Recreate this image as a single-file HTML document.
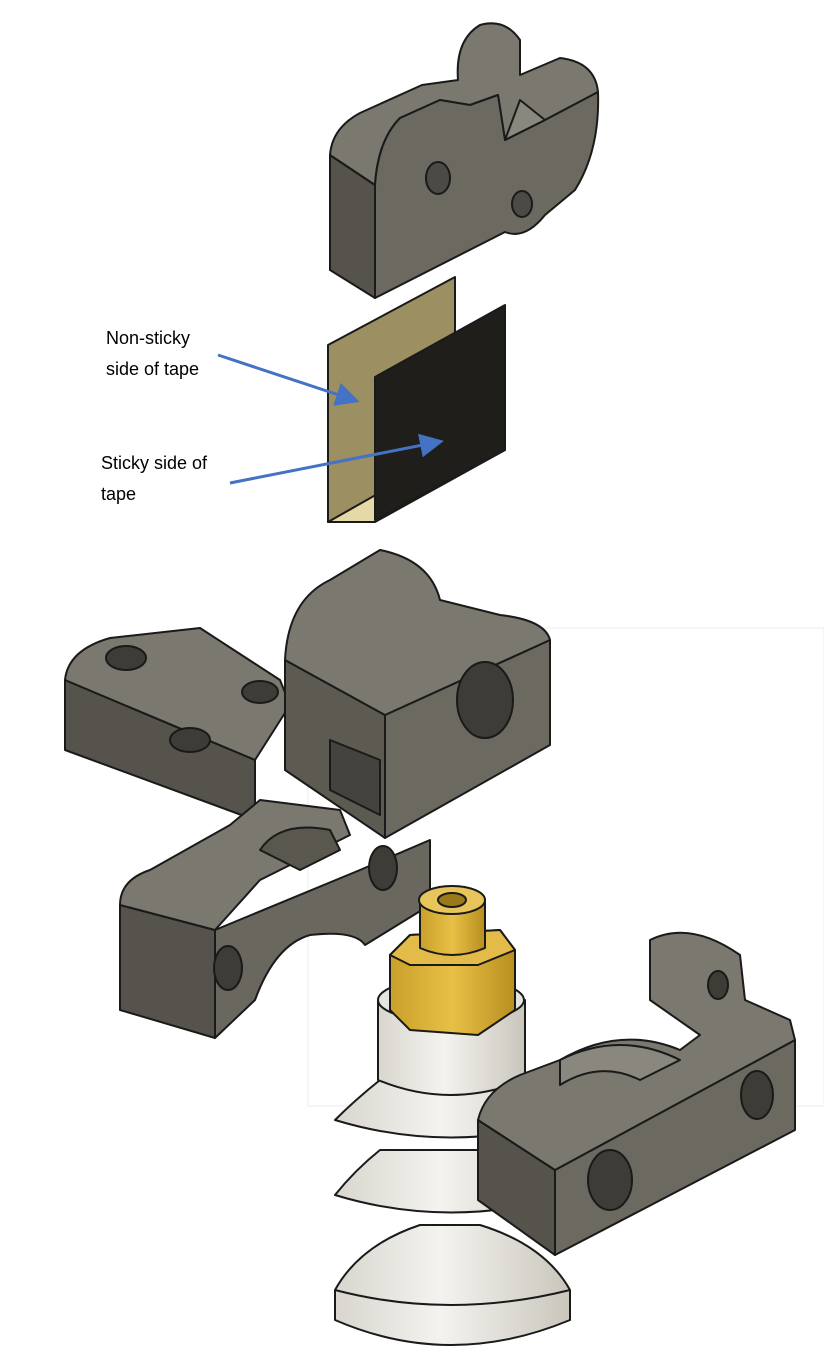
<!DOCTYPE html>
<html><head><meta charset="utf-8"><style>
html,body{margin:0;padding:0;background:#fff;}
svg{display:block;}
text{font-family:"Liberation Sans",sans-serif;font-size:18px;fill:#000;}
</style></head><body>
<svg width="824" height="1365" viewBox="0 0 824 1365" xmlns="http://www.w3.org/2000/svg">
<defs>
<marker id="ah" markerWidth="8" markerHeight="8" refX="6" refY="4" orient="auto"><path d="M0,0 L8,4 L0,8 z" fill="#4472c4"/></marker>
<linearGradient id="cup" x1="0" x2="1"><stop offset="0" stop-color="#d8d6ce"/><stop offset="0.45" stop-color="#f4f3ef"/><stop offset="1" stop-color="#c9c6bc"/></linearGradient>
<linearGradient id="brass" x1="0" x2="1"><stop offset="0" stop-color="#c9a02a"/><stop offset="0.5" stop-color="#e8c046"/><stop offset="1" stop-color="#b88f20"/></linearGradient>
</defs>
<g stroke="#1a1a1a" stroke-width="2" stroke-linejoin="round">
<!-- top bracket -->
<path d="M330,155 L330,270 L375,298 L375,185 Z" fill="#56534c"/>
<path d="M330,155 Q332,128 360,113 L422,85 L458,80 Q455,40 480,25 Q505,18 520,40 L520,75 L560,58 Q595,62 598,92 L545,120 L505,140 L498,95 L470,105 L440,100 L400,118 Q378,140 375,185 Z" fill="#7b786f"/>
<path d="M375,185 Q378,140 400,118 L440,100 L470,105 L498,95 L505,140 L545,120 L598,92 Q600,150 575,190 L545,215 Q525,240 505,232 L375,298 Z" fill="#6c6960"/>
<path d="M505,140 L520,100 L545,120 Z" fill="#8a877e"/>
<ellipse cx="438" cy="178" rx="12" ry="16" fill="#4c4a44"/>
<ellipse cx="522" cy="204" rx="10" ry="13" fill="#4c4a44"/>
<!-- tape -->
<path d="M328,345 L455,277 L455,470 L328,522 Z" fill="#9c8f62"/>
<path d="M328,522 L375,522 L505,450 L455,450 Z" fill="#e6d9a8"/>
<path d="M375,377 L505,305 L505,450 L375,520 Z" fill="#1f1e1a"/>
</g>
<line x1="218" y1="355" x2="354" y2="400" stroke="#4472c4" stroke-width="3" marker-end="url(#ah)"/>
<line x1="230" y1="483" x2="438" y2="442" stroke="#4472c4" stroke-width="3" marker-end="url(#ah)"/>
<text x="106" y="344">Non-sticky</text>
<text x="106" y="375">side of tape</text>
<text x="101" y="469">Sticky side of</text>
<text x="101" y="500">tape</text>
<rect x="308" y="628" width="516" height="478" fill="none" stroke="#ececec" stroke-width="1"/>
<g stroke="#1a1a1a" stroke-width="2" stroke-linejoin="round">
<!-- left plate -->
<path d="M65,680 L65,750 L255,820 L255,760 Z" fill="#56534c"/>
<path d="M65,680 Q68,650 110,638 L200,628 L280,680 L290,705 L255,760 Z" fill="#7b786f"/>
<ellipse cx="126" cy="658" rx="20" ry="12" fill="#3e3c37"/>
<ellipse cx="190" cy="740" rx="20" ry="12" fill="#3e3c37"/>
<ellipse cx="260" cy="692" rx="18" ry="11" fill="#3e3c37"/>
<!-- lower left clamp -->
<path d="M120,905 L120,1010 L215,1038 L215,930 Z" fill="#56534c"/>
<path d="M215,930 L215,1038 L255,1000 Q275,945 310,935 Q355,930 365,945 L430,905 L430,840 L360,870 Z" fill="#6a675f"/>
<ellipse cx="228" cy="968" rx="14" ry="22" fill="#3e3c37"/>
<ellipse cx="383" cy="868" rx="14" ry="22" fill="#3e3c37"/>
<path d="M120,905 Q120,880 150,870 L230,825 L260,800 L340,810 L350,835 L300,860 L260,880 L215,930 Z" fill="#7b786f"/>
<path d="M260,850 Q280,820 330,830 L340,850 L300,870 Z" fill="#5a574f"/>
<!-- central clevis -->
<path d="M285,660 L285,770 L385,838 L385,715 Z" fill="#5d5a52"/>
<path d="M385,715 L385,838 L550,745 L550,640 Z" fill="#6c6960"/>
<path d="M285,660 Q288,600 330,580 L380,550 Q430,560 440,600 L500,615 Q545,620 550,640 L385,715 Z" fill="#7b786f"/>
<ellipse cx="485" cy="700" rx="28" ry="38" fill="#3e3c37"/>
<path d="M330,790 L380,815 L380,760 L330,740 Z" fill="#45433d"/>
<!-- suction cup -->
<path d="M420,1225 L480,1225 Q545,1245 570,1290 L570,1320 Q450,1370 335,1320 L335,1290 Q360,1245 420,1225 Z" fill="url(#cup)"/>
<path d="M335,1290 Q450,1320 570,1290" fill="none"/>
<path d="M380,1150 L525,1150 Q550,1170 570,1195 Q450,1230 335,1195 Q355,1170 380,1150 Z" fill="url(#cup)"/>
<path d="M380,1080 L525,1080 Q550,1100 570,1120 Q450,1155 335,1120 Q355,1100 380,1080 Z" fill="url(#cup)"/>
<path d="M378,1000 L378,1080 Q450,1110 525,1080 L525,1000 Z" fill="url(#cup)"/>
<ellipse cx="451" cy="1000" rx="73" ry="22" fill="#e6e4de"/>
<!-- brass -->
<path d="M390,955 L410,935 L500,930 L515,950 L515,1010 L478,1035 L410,1030 L390,1010 Z" fill="url(#brass)"/>
<path d="M390,955 L410,935 L500,930 L515,950 L478,965 L410,965 Z" fill="#e2bb48"/>
<path d="M420,900 L420,948 Q452,962 485,948 L485,900 Z" fill="url(#brass)"/>
<ellipse cx="452" cy="900" rx="33" ry="14" fill="#e8c55a"/>
<ellipse cx="452" cy="900" rx="14" ry="7" fill="#9a7a18"/>
<!-- right clamp -->
<path d="M478,1120 L478,1200 L555,1255 L555,1170 Z" fill="#56534c"/>
<path d="M555,1170 L555,1255 L795,1130 L795,1040 Z" fill="#6c6960"/>
<path d="M478,1120 Q485,1090 520,1075 L560,1060 Q620,1025 680,1050 L700,1035 L650,1000 L650,940 Q690,920 740,955 L745,1000 L790,1020 L795,1040 L555,1170 Z" fill="#7b786f"/>
<path d="M560,1060 Q620,1030 680,1060 L640,1080 Q600,1060 560,1085 Z" fill="#8a877e"/>
<ellipse cx="718" cy="985" rx="10" ry="14" fill="#3e3c37"/>
<ellipse cx="610" cy="1180" rx="22" ry="30" fill="#3e3c37"/>
<ellipse cx="757" cy="1095" rx="16" ry="24" fill="#3e3c37"/>
</g>
</svg>
</body></html>
